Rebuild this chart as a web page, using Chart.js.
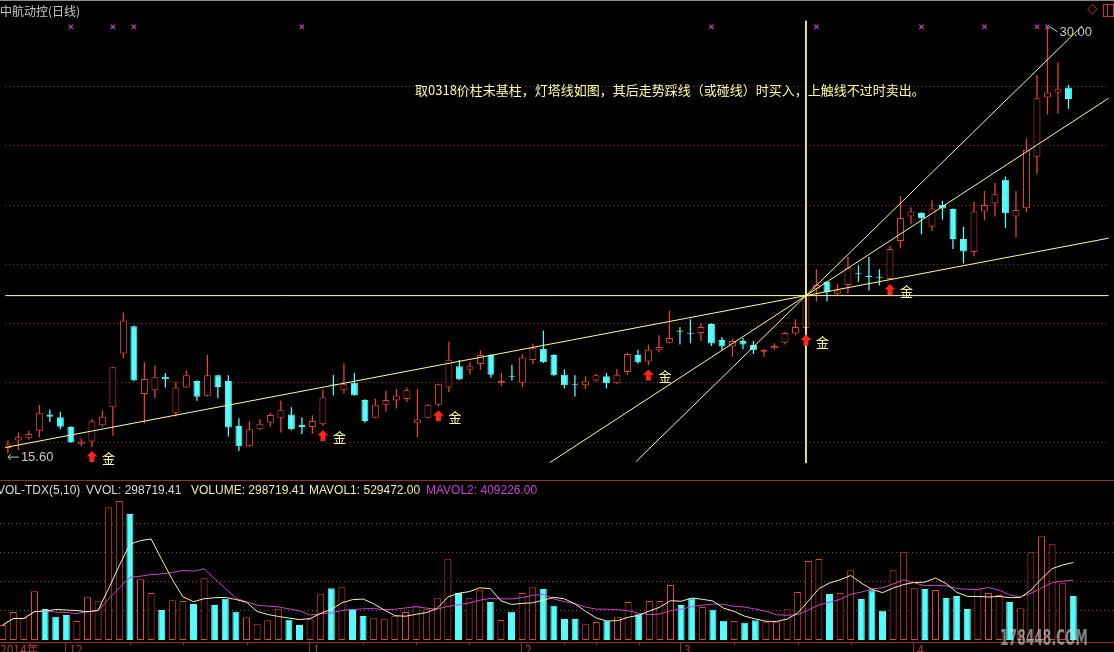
<!DOCTYPE html>
<html>
<head>
<meta charset="utf-8">
<script src="https://cdn.jsdelivr.net/npm/chart.js@4.4.1/dist/chart.umd.min.js"></script>
<style>
  body { margin: 0; background: #000; }
  #box { position: relative; width: 1114px; height: 652px; overflow: hidden; background: #000; font-family: "Liberation Sans", Arial, sans-serif; }
  #box canvas { position: absolute; left: 0; }
  #priceChart { top: 0; }
  #volChart { top: 480px; }
  .abs { position: absolute; white-space: nowrap; }
</style>
</head>
<body>
<div id="box">
  <canvas id="priceChart" width="1114" height="480"></canvas>
  <canvas id="volChart" width="1114" height="172"></canvas>

  <div class="abs" style="left:0;top:0;width:1114px;height:1px;background:#8a8a8a;"></div>
  <div class="abs" style="left:0;top:2px;color:#c8c8c8;font:12px 'Noto Sans CJK SC';">中航动控(日线)</div>
  <div class="abs" style="left:1087px;top:0px;color:#c83232;font:14px 'DejaVu Sans';">◇</div>
  <div class="abs" style="left:1103px;top:4px;width:9px;height:11px;border:1px solid #c83232;"></div>
  <div class="abs" style="left:1107px;top:4px;width:1px;height:12px;background:#c83232;"></div>

  <div class="abs" style="left:415px;top:80px;color:#ffff99;font:13px 'Noto Sans CJK SC';">取0318价柱未基柱，灯塔线如图，其后走势踩线（或碰线）时买入，上触线不过时卖出。</div>

  <div class="abs" style="left:0;top:480px;width:1114px;height:1px;background:#a02828;"></div>
  <div class="abs" style="left:-3px;top:483px;color:#dcdcdc;font:12px 'Liberation Sans';">VOL-TDX(5,10)</div>
  <div class="abs" style="left:86px;top:483px;color:#dcdcdc;font:12px 'Liberation Sans';">VVOL: 298719.41</div>
  <div class="abs" style="left:191px;top:483px;color:#f0f0a0;font:12px 'Liberation Sans';">VOLUME: 298719.41</div>
  <div class="abs" style="left:309px;top:483px;color:#f0f0a0;font:12px 'Liberation Sans';">MAVOL1: 529472.00</div>
  <div class="abs" style="left:426px;top:483px;color:#d040d0;font:12px 'Liberation Sans';">MAVOL2: 409226.00</div>

  <div class="abs" style="left:1000px;top:624px;color:rgba(215,215,215,0.6);font:bold 19px 'DejaVu Sans Condensed';transform:scale(0.72,1.15);transform-origin:0 0;">178448.COM</div>
</div>

<script>
// daily bars, 中航动控, Dec 2013 - Apr 2014
const opens = [
  15.79, 16.04, 16.12, 16.37, 16.92, 16.83, 16.50, 15.93, 16.01, 16.56,
  17.16, 18.98, 19.90, 17.61, 17.74, 18.19, 16.98, 17.83, 18.05, 17.55,
  18.24, 18.05, 16.53, 15.85, 16.42, 16.64, 16.81, 16.92, 16.57, 16.50,
  16.59, 17.93, 17.74, 17.99, 17.41, 16.81, 17.25, 17.39, 17.44, 16.62,
  16.81, 17.25, 17.83, 18.55, 18.43, 18.62, 18.93, 17.99, 18.22, 17.99,
  18.76, 19.14, 18.93, 18.26, 17.94, 17.91, 18.07, 18.21, 17.97, 18.35,
  18.93, 18.71, 19.09, 19.34, 19.75, 19.67, 19.67, 19.97, 19.43, 19.21,
  19.40, 19.26, 19.04, 19.15, 19.34, 19.65, 19.84, 21.16, 21.40, 20.99,
  21.29, 21.68, 21.60, 21.56, 21.49, 22.77, 23.60, 23.72, 23.25, 23.99,
  23.85, 22.84, 22.40, 23.77, 24.04, 24.84, 23.60, 23.88, 25.61, 27.61,
  27.78, 27.95,
];
const highs = [
  16.04, 16.31, 16.37, 17.24, 17.09, 17.01, 16.52, 16.09, 16.76, 17.06,
  18.53, 20.36, 19.92, 18.68, 18.57, 18.32, 18.02, 18.40, 18.07, 18.93,
  18.26, 18.24, 16.79, 16.69, 16.76, 16.97, 17.39, 17.16, 16.83, 16.89,
  17.77, 18.25, 18.65, 18.32, 17.43, 17.45, 17.72, 17.78, 17.83, 17.78,
  17.27, 17.96, 19.37, 18.76, 18.68, 19.09, 18.95, 18.32, 18.60, 18.95,
  19.31, 19.75, 18.95, 18.44, 18.24, 18.21, 18.29, 18.32, 18.46, 19.01,
  19.10, 19.28, 19.59, 20.42, 19.86, 20.13, 20.00, 20.00, 19.53, 19.48,
  19.50, 19.40, 19.12, 19.32, 19.69, 20.13, 21.66, 21.82, 21.42, 21.32,
  22.23, 21.95, 22.23, 21.82, 22.61, 24.29, 23.91, 23.74, 24.15, 24.13,
  23.87, 23.25, 24.10, 24.46, 24.73, 24.95, 24.46, 26.24, 28.36, 30.00,
  28.80, 28.03,
];
const lows = [
  15.60, 15.71, 16.07, 16.15, 16.67, 16.42, 15.96, 15.85, 15.82, 16.51,
  16.20, 18.82, 18.05, 16.62, 17.47, 17.83, 16.84, 17.81, 17.38, 17.53,
  17.47, 16.18, 15.69, 15.82, 16.40, 16.51, 16.31, 16.39, 16.26, 16.26,
  16.53, 17.56, 17.63, 17.55, 16.64, 16.79, 17.01, 17.12, 17.34, 16.15,
  16.79, 17.20, 17.67, 18.08, 18.26, 18.43, 18.16, 17.88, 18.07, 17.85,
  18.62, 18.66, 18.22, 17.80, 17.53, 17.77, 18.02, 17.80, 17.94, 18.26,
  18.63, 18.57, 19.01, 19.32, 19.28, 19.32, 19.40, 19.23, 19.10, 18.87,
  19.12, 18.96, 18.87, 19.10, 19.28, 19.59, 19.75, 20.72, 20.74, 20.96,
  20.99, 21.40, 21.10, 21.27, 21.46, 22.53, 23.33, 23.00, 23.11, 23.49,
  22.50, 22.01, 22.26, 23.47, 23.60, 23.22, 22.89, 23.74, 25.02, 27.04,
  27.07, 27.23,
];
const closes = [
  15.91, 16.15, 16.26, 16.98, 16.84, 16.51, 15.98, 16.01, 16.69, 16.84,
  18.51, 20.09, 18.07, 18.12, 18.19, 18.11, 17.83, 18.24, 17.52, 18.24,
  17.85, 16.48, 15.85, 16.42, 16.61, 16.90, 17.08, 16.42, 16.50, 16.70,
  17.49, 17.90, 17.94, 17.57, 16.70, 17.25, 17.41, 17.56, 17.74, 16.75,
  17.25, 17.94, 18.77, 18.10, 18.55, 18.93, 18.26, 18.05, 18.19, 18.84,
  19.15, 18.68, 18.24, 17.91, 17.91, 18.04, 18.24, 17.97, 18.26, 18.96,
  18.68, 19.10, 19.20, 19.50, 19.71, 19.64, 19.87, 19.31, 19.21, 19.40,
  19.28, 19.09, 19.10, 19.23, 19.67, 19.87, 20.93, 21.29, 21.05, 21.10,
  21.87, 21.65, 21.56, 21.53, 22.50, 23.55, 23.77, 23.55, 23.87, 23.87,
  22.84, 22.42, 23.77, 23.99, 24.35, 23.71, 23.82, 25.85, 27.59, 27.78,
  27.91, 27.56,
];
const volumes = [
  101850, 190120, 147340, 330470, 210490, 158430, 169750, 129010, 289700, 262560,
  900800, 943810, 855540, 411900, 319130, 203700, 269300, 264800, 244440, 418700,
  237650, 280600, 192400, 153900, 106400, 133500, 212700, 138100, 101850, 140300,
  310000, 350800, 357600, 210500, 163000, 147300, 140300, 165200, 190100, 228600,
  208200, 282900, 547700, 319100, 282900, 337200, 258000, 135800, 192400, 319100,
  357600, 346300, 233100, 142600, 142600, 106400, 122200, 131300, 153900, 258000,
  174200, 264800, 264800, 373500, 237650, 282900, 224100, 205900, 131300, 129000,
  117700, 133500, 124500, 124500, 208200, 325900, 536400, 550000, 312300, 319100,
  472900, 278400, 337200, 199200, 472900, 595200, 350800, 346300, 339500, 285200,
  298800, 210500, 344000, 319100, 305600, 258000, 214900, 595200, 703800, 649500,
  384800, 298719,
];

// month starts on the time axis (bar index -> label)
const monthTicks = [[6, '12'], [29, '1'], [49, '2'], [64, '3'], [86, '4']];
const weekTicks = [12, 17, 23, 34, 39, 44, 53, 56, 60, 69, 75, 80];

// signals: "金" buy marks, purple top markers
const buyBars = [8, 30, 41, 61, 76, 84];
const markerBars = [6, 10, 12, 28, 67, 77, 87, 93, 98, 99];
const markerLevel = 30.0;

// 0318 base bar and the lamp-tower (灯塔) lines through its close
const pivotBar = 76;
const pivotPrice = 20.93;
const fanSlopes = [0.0672, 0.231, 0.346];   // price per bar
const fanFrom = [-0.26, 51.6, 59.8];
const fanTo = [104.84, 104.84, 102.3];
const crossTop = 30.2;
const crossBottom = 15.28;

// grid levels
const priceGrid = [16, 18, 20, 22, 24, 26, 28];
const volGrid = [203700, 400600, 597500, 794400];

const xMin = -0.255;
const xMax = 104.84;
const RED = '#e8413c';
const CYAN = '#54fcfc';
const LINE = '#ffff88';

const up = closes.map((c, i) => c >= opens[i]);
const idx = closes.map((c, i) => i);

const movingAvg = (arr, n) =>
  arr.map((v, i) => {
    const part = arr.slice(Math.max(0, i - n + 1), i + 1);
    return part.reduce((a, b) => a + b, 0) / part.length;
  });

const dottedGrid = (levels) => ({
  id: 'dottedGrid',
  beforeDatasetsDraw(chart) {
    const { ctx, chartArea, scales } = chart;
    ctx.save();
    ctx.strokeStyle = '#9a4030';
    ctx.lineWidth = 1;
    ctx.setLineDash([1, 3]);
    levels.forEach((v) => {
      const y = Math.round(scales.y.getPixelForValue(v)) + 0.5;
      ctx.beginPath();
      ctx.moveTo(chartArea.left, y);
      ctx.lineTo(chartArea.right, y);
      ctx.stroke();
    });
    ctx.restore();
  },
});

const signalPlugin = {
  id: 'signals',
  afterDatasetsDraw(chart) {
    const { ctx, scales } = chart;
    const { x, y } = scales;
    ctx.save();
    buyBars.forEach((i) => {
      const cx = x.getPixelForValue(i);
      const top = y.getPixelForValue(lows[i]) + 4;
      ctx.fillStyle = '#ff2418';
      ctx.beginPath();
      ctx.moveTo(cx, top);
      ctx.lineTo(cx + 5.5, top + 5.5);
      ctx.lineTo(cx + 2.5, top + 5.5);
      ctx.lineTo(cx + 2.5, top + 11);
      ctx.lineTo(cx - 2.5, top + 11);
      ctx.lineTo(cx - 2.5, top + 5.5);
      ctx.lineTo(cx - 5.5, top + 5.5);
      ctx.closePath();
      ctx.fill();
      ctx.fillStyle = '#ffff90';
      ctx.font = '13px "Noto Sans CJK SC"';
      ctx.textBaseline = 'middle';
      ctx.fillText('金', cx + 10, top + 7);
    });

    // highest high / lowest low labels
    const hi = highs.indexOf(Math.max(...highs));
    const lo = lows.indexOf(Math.min(...lows));
    ctx.strokeStyle = '#c8c8c8';
    ctx.fillStyle = '#c8c8c8';
    ctx.lineWidth = 1;
    ctx.font = '13px "Liberation Sans"';
    ctx.textBaseline = 'middle';
    const hx = x.getPixelForValue(hi);
    const hy = y.getPixelForValue(highs[hi]);
    ctx.beginPath();
    ctx.moveTo(hx + 2, hy);
    ctx.lineTo(hx + 10, hy + 5);
    ctx.stroke();
    ctx.fillText(highs[hi].toFixed(2), hx + 12, hy + 6);

    const lx = x.getPixelForValue(lo);
    const ly = y.getPixelForValue(lows[lo]) + 3;
    ctx.beginPath();
    ctx.moveTo(lx, ly + 0.5);
    ctx.lineTo(lx + 11, ly + 0.5);
    ctx.moveTo(lx + 3, ly - 2.5);
    ctx.lineTo(lx, ly + 0.5);
    ctx.lineTo(lx + 3, ly + 3.5);
    ctx.stroke();
    ctx.fillText(lows[lo].toFixed(2), lx + 13, ly + 1);
    ctx.restore();
  },
};

const timeAxisPlugin = {
  id: 'timeAxis',
  afterDatasetsDraw(chart) {
    const { ctx, chartArea, scales, height } = chart;
    const base = chartArea.bottom + 2.5;
    ctx.save();
    ctx.strokeStyle = '#a02828';
    ctx.fillStyle = '#b83c3c';
    ctx.lineWidth = 1;
    ctx.beginPath();
    ctx.moveTo(chartArea.left, base);
    ctx.lineTo(chartArea.right, base);
    weekTicks.forEach((i) => {
      const px = Math.round(scales.x.getPixelForValue(i)) + 0.5;
      ctx.moveTo(px, base);
      ctx.lineTo(px, base + 3);
    });
    monthTicks.forEach(([i]) => {
      const px = Math.round(scales.x.getPixelForValue(i)) - 0.5;
      ctx.moveTo(px, base);
      ctx.lineTo(px, height);
    });
    ctx.stroke();
    ctx.font = '12px "Noto Sans CJK SC"';
    ctx.textBaseline = 'top';
    ctx.fillText('2014年', 0, base + 1);
    monthTicks.forEach(([i, label]) => {
      ctx.fillText(label, scales.x.getPixelForValue(i) + 3, base + 1);
    });
    ctx.restore();
  },
};

const fanDatasets = fanSlopes.map((s, k) => ({
  type: 'line',
  data: [
    { x: fanFrom[k], y: pivotPrice + s * (fanFrom[k] - pivotBar) },
    { x: fanTo[k], y: pivotPrice + s * (fanTo[k] - pivotBar) },
  ],
  borderColor: LINE,
  borderWidth: 1,
  pointRadius: 0,
  order: 2,
}));

const baseOptions = {
  responsive: false,
  animation: false,
  events: [],
  layout: { padding: 0 },
  plugins: { legend: { display: false }, tooltip: { enabled: false } },
};

new Chart(document.getElementById('priceChart'), {
  type: 'bar',
  data: {
    datasets: [
      {
        type: 'bar',
        data: idx.map((i) => ({ x: i, y: [lows[i], highs[i]] })),
        backgroundColor: up.map((u) => (u ? RED : CYAN)),
        borderWidth: 0,
        grouped: false,
        barPercentage: 1.3 / 10.6,
        categoryPercentage: 1,
        order: 5,
      },
      {
        type: 'bar',
        data: idx.map((i) => ({ x: i, y: [opens[i], closes[i]] })),
        backgroundColor: up.map((u) => (u ? '#000' : CYAN)),
        borderColor: up.map((u) => (u ? RED : CYAN)),
        borderWidth: 1,
        borderSkipped: false,
        minBarLength: 1,
        grouped: false,
        barPercentage: 7 / 10.6,
        categoryPercentage: 1,
        order: 4,
      },
      ...fanDatasets,
      {
        type: 'line',
        data: [{ x: xMin, y: pivotPrice }, { x: xMax, y: pivotPrice }],
        borderColor: LINE,
        borderWidth: 1,
        pointRadius: 0,
        order: 2,
      },
      {
        type: 'line',
        data: [{ x: pivotBar, y: crossTop }, { x: pivotBar, y: crossBottom }],
        borderColor: LINE,
        borderWidth: 1,
        pointRadius: 0,
        order: 2,
      },
      {
        type: 'scatter',
        data: markerBars.map((i) => ({ x: i, y: markerLevel })),
        pointStyle: 'crossRot',
        pointRadius: 3,
        borderColor: '#d040d0',
        borderWidth: 1.2,
        order: 1,
      },
    ],
  },
  options: {
    ...baseOptions,
    scales: {
      x: { type: 'linear', display: false, offset: false, min: xMin, max: xMax },
      y: { type: 'linear', display: false, min: 14.885, max: 30.726 },
    },
  },
  plugins: [dottedGrid(priceGrid), signalPlugin],
});

new Chart(document.getElementById('volChart'), {
  type: 'bar',
  data: {
    datasets: [
      {
        type: 'bar',
        data: idx.map((i) => ({ x: i, y: volumes[i] })),
        backgroundColor: up.map((u) => (u ? '#000' : CYAN)),
        borderColor: up.map((u) => (u ? RED : CYAN)),
        borderWidth: 1,
        borderSkipped: false,
        grouped: false,
        barPercentage: 7 / 10.6,
        categoryPercentage: 1,
        order: 3,
      },
      {
        type: 'line',
        data: movingAvg(volumes, 5).map((v, i) => ({ x: i, y: v })),
        borderColor: '#f4f4b0',
        borderWidth: 1,
        pointRadius: 0,
        order: 1,
      },
      {
        type: 'line',
        data: movingAvg(volumes, 10).map((v, i) => ({ x: i, y: v })),
        borderColor: '#d040d0',
        borderWidth: 1,
        pointRadius: 0,
        order: 2,
      },
    ],
  },
  options: {
    ...baseOptions,
    layout: { padding: { top: 0, left: 0, right: 0, bottom: 12 } },
    scales: {
      x: { type: 'linear', display: false, offset: false, min: xMin, max: xMax },
      y: { type: 'linear', display: false, min: 0, max: 1086400 },
    },
  },
  plugins: [dottedGrid(volGrid), timeAxisPlugin],
});
</script>
</body>
</html>
